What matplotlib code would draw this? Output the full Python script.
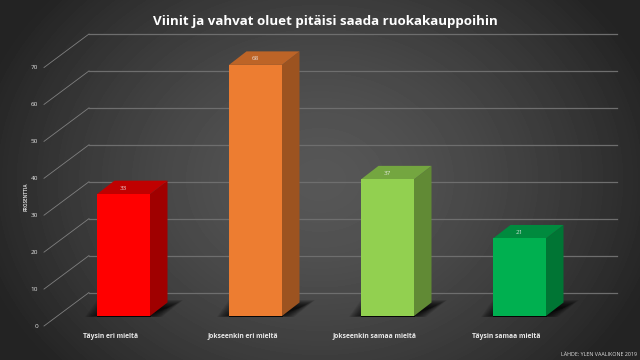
import matplotlib
matplotlib.use('Agg')
import matplotlib.pyplot as plt
from matplotlib.patches import Polygon
import numpy as np

# data
categories = ['Täysin eri mieltä', 'Jokseenkin eri mieltä', 'Jokseenkin samaa mieltä', 'Täysin samaa mieltä']
values = [33, 68, 37, 21]
yticks = [0, 10, 20, 30, 40, 50, 60, 70]
front_cols = ['#ff0000', '#ed7d31', '#92d050', '#00b050']
top_cols = ['#c00000', '#bd6427', '#74a640', '#008a3e']
side_cols = ['#a00000', '#9c5320', '#618a35', '#007534']

title = 'Viinit ja vahvat oluet pitäisi saada ruokakauppoihin'
source = 'LÄHDE: YLEN VAALIKONE 2019'
ylab = 'PROSENTTIA'

W, H = 640, 360
plt.rcParams['font.family'] = ['Open Sans', 'DejaVu Sans']
fig = plt.figure(figsize=(W / 100, H / 100), dpi=100)

# gradient background
bg = fig.add_axes([0, 0, 1, 1], zorder=0)
xx, yy = np.meshgrid(np.linspace(-1, 1, W), np.linspace(-1, 1, H))
r = np.clip(np.sqrt(xx ** 2 + (yy * 0.7) ** 2) / 1.1, 0, 1)
shade = 0.34 - 0.2 * r ** 1.5
bg.imshow(shade, cmap='gray', vmin=0, vmax=1, aspect='auto')
bg.axis('off')

# axes: 0 at px 326, 70 at px 67.5, first bar centre px 123.5, spacing 132
left, right, bot, top = 44, 572, 326, 67.5
ax = fig.add_axes([left / W, 1 - bot / H, (right - left) / W, (bot - top) / H], zorder=1)
ax.set_xlim((left - 123.5) / 132, (right - 123.5) / 132)
ax.set_ylim(0, 70)
ax.axis('off')

px_x = 1 / 132
px_y = 70 / (bot - top)
wall_dx, wall_dy = 45 * px_x, 33.5 * px_y
bar_dx, bar_dy = 17.5 * px_x, 13.5 * px_y
base = 10 * px_y
bw = 53 * px_x
x0, x1 = ax.get_xlim()

# grid on back wall and side wall
for t in yticks:
    ax.plot([x0 + wall_dx, x1 + wall_dx], [t + wall_dy, t + wall_dy], color='#6e6e6e', lw=0.9, clip_on=False, zorder=1)
    ax.plot([x0, x0 + wall_dx], [t, t + wall_dy], color='#808080', lw=0.6, clip_on=False, zorder=1)
    ax.text(x0 - 6 * px_x, t, str(t), color='#e6e6e6', fontsize=4.6, ha='right', va='center', clip_on=False)

for i, v in enumerate(values):
    l, r_ = i - bw / 2, i + bw / 2
    h = base + v
    # floor shadow, stacked soft layers
    for k in range(16):
        gx = k * 1.1 * px_x
        gy = k * 0.55 * px_y
        ax.add_patch(Polygon([(l - 12 * px_x + gx, base - 1 * px_y + gy * 0.2), (r_ + 12 * px_x - gx, base - 1 * px_y + gy * 0.2),
                              (r_ + 33 * px_x - gx, base + 16 * px_y - gy), (l + gx, base + 16 * px_y - gy)],
                             closed=True, fc='black', ec='none', alpha=0.085, zorder=2, clip_on=False))
    ax.add_patch(Polygon([(r_, base), (r_ + bar_dx, base + bar_dy), (r_ + bar_dx, h + bar_dy), (r_, h)],
                         closed=True, fc=side_cols[i], ec='none', zorder=3, clip_on=False))
    ax.add_patch(Polygon([(l, h), (r_, h), (r_ + bar_dx, h + bar_dy), (l + bar_dx, h + bar_dy)],
                         closed=True, fc=top_cols[i], ec='none', zorder=3, clip_on=False))
    ax.bar(i, v, bottom=base, width=bw, color=front_cols[i], zorder=4, clip_on=False)
    ax.plot([l, r_], [base, base], color='black', lw=0.6, zorder=5, clip_on=False)
    ax.text(i, h + 6 * px_y, str(v), color='#f2f2f2', fontsize=4.6, alpha=0.85,
            ha='center', va='center', zorder=6, clip_on=False)
    ax.text(i - 13 * px_x, -10 * px_y, categories[i], color='#e8e8e8', fontsize=4.9,
            fontweight='bold', ha='center', va='center', clip_on=False)

fig.text(325 / W, 1 - 21 / H, title, color='white', fontsize=9.6, fontweight='bold', ha='center', va='center')
fig.text(26 / W, 1 - 196.5 / H, ylab, color='#d0d0d0', fontsize=3.3, rotation=90, ha='center', va='center', fontweight='bold')
fig.text(637 / W, 1 - 354.5 / H, source, color='#e0e0e0', fontsize=3.9, ha='right', va='center')

fig.savefig('out.png', dpi=100)
